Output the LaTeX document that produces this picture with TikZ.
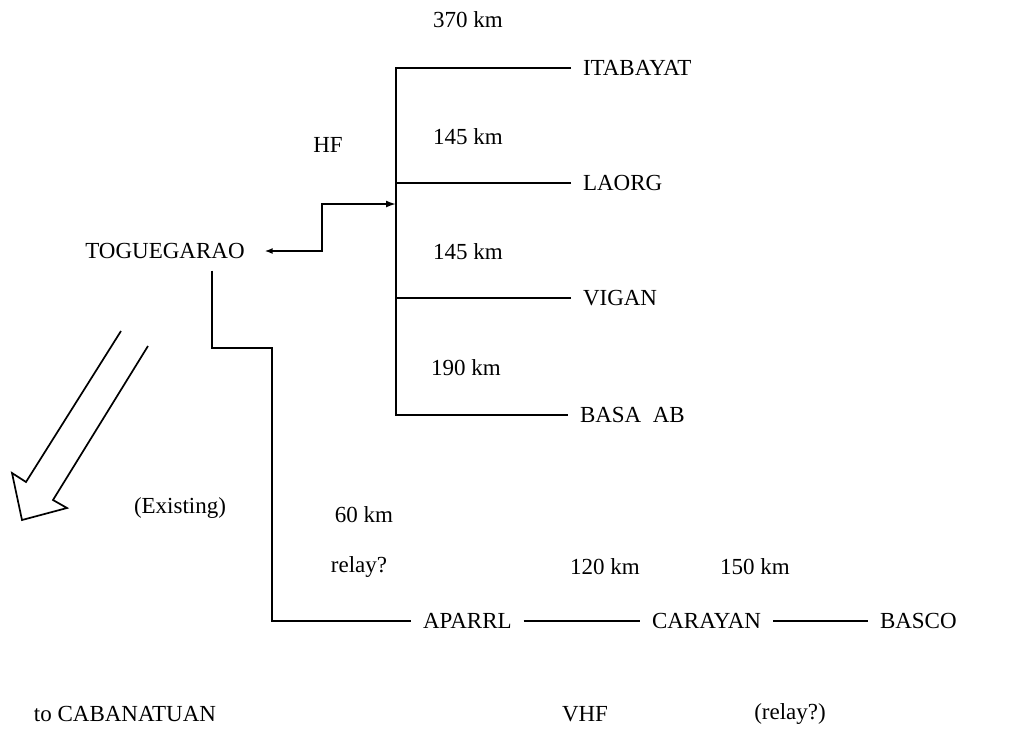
\documentclass[tikz,border=0pt]{standalone}
\usepackage{fontspec}
\setmainfont{Liberation Serif}
\usetikzlibrary{arrows.meta}

\begin{document}
\begin{tikzpicture}[x=1pt, y=-1pt,
  every node/.style={font=\fontsize{23}{27}\selectfont},
  station/.style={inner sep=2pt, outer sep=10pt},
  link/.style={line width=1.7pt},
  label/.style={inner sep=1pt}]
  \useasboundingbox (0,0) rectangle (1035,737);

  % coordinates of the corners
  \coordinate (hub) at (396,204);
  \coordinate (busTop) at (396,68);
  \coordinate (busBot) at (396,415);
  \coordinate (jog) at (322,204);
  \coordinate (drop) at (212,348);
  \coordinate (corner) at (272,348);
  \coordinate (foot) at (272,621);

  % stations
  \node[station] (tog) at (165,251) {TOGUEGARAO};
  \node[station, anchor=west] (ita) at (571,68) {ITABAYAT};
  \node[station, anchor=west] (laorg) at (571,183) {LAORG};
  \node[station, anchor=west] (vigan) at (571,298) {VIGAN};
  \node[station, anchor=west] (basa) at (568,415) {BASA\ \ AB};
  \node[station, anchor=west] (aparrl) at (411,621) {APARRL};
  \node[station, anchor=west] (carayan) at (640,621) {CARAYAN};
  \node[station, anchor=west] (basco) at (868,621) {BASCO};

  % HF link with arrow tips at both ends
  \draw[link, {Latex[length=8pt,width=6pt]}-{Latex[length=10pt,width=7pt]}, shorten <=8pt]
    (tog.east) -- (tog.east -| jog) -- (jog) -- (hub);

  % HF bus
  \draw[link] (ita.west) -- (busTop) -- (busBot) -- (basa.west);
  \draw[link] (laorg.west) -- (laorg.west -| hub);
  \draw[link] (vigan.west) -- (vigan.west -| hub);

  % VHF chain
  \draw[link] (tog.south -| drop) -- (drop) -- (corner) -- (foot) -- (aparrl.west);
  \draw[link] (aparrl) -- (carayan);
  \draw[link] (carayan) -- (basco);

  % hollow arrow to the existing link
  \draw[link, line join=miter] (121,331) -- (26,482) -- (12,473) -- (22,520)
    -- (67,508) -- (53,500) -- (148,346);

  % distances and notes
  \node[label] (d370) at (468,20) {370 km};
  \node[label] (hf) at (328,145) {HF};
  \node[label] (d145a) at (468,137) {145 km};
  \node[label] (d145b) at (468,252) {145 km};
  \node[label] (d190) at (466,368) {190 km};
  \node[label] (exist) at (180,508) {(Existing)};
  \node[label] (d60) at (364,515) {60 km};
  \node[label] (relayA) at (359,567) {relay?};
  \node[label] (d120) at (605,567) {120 km};
  \node[label] (d150) at (755,567) {150 km};
  \node[label] (cab) at (125,714) {to CABANATUAN};
  \node[label] (vhf) at (585,714) {VHF};
  \node[label] (relayB) at (790,714) {(relay?)};
\end{tikzpicture}
\end{document}
